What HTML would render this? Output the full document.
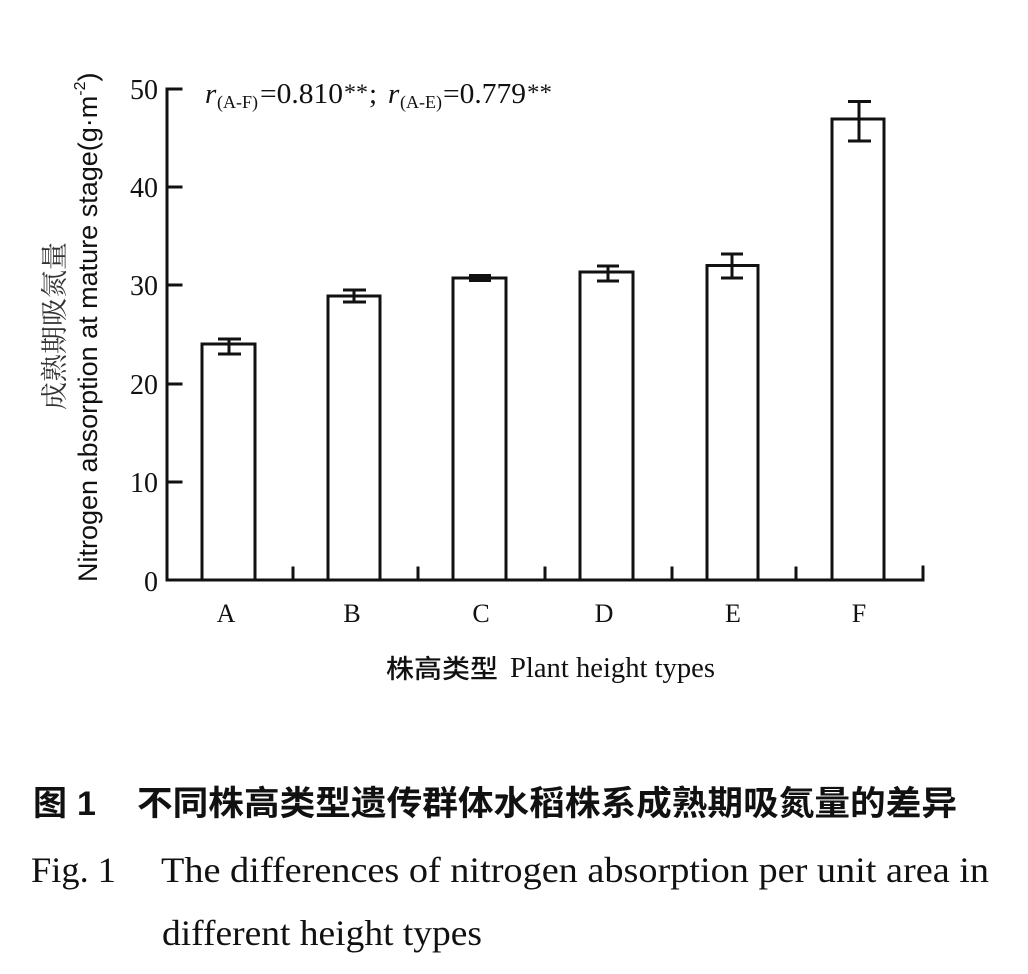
<!DOCTYPE html>
<html>
<head>
<meta charset="utf-8">
<style>
html,body{margin:0;padding:0;background:#ffffff;}
svg{display:block;}
</style>
</head>
<body>
<svg width="1028" height="974" viewBox="0 0 1028 974" xmlns="http://www.w3.org/2000/svg">
<rect x="0" y="0" width="1028" height="974" fill="#ffffff"/>

<!-- axes -->
<g stroke="#111" stroke-width="3" fill="none" stroke-linecap="square">
  <line x1="167" y1="89" x2="167" y2="580"/>
  <line x1="167" y1="580" x2="923" y2="580"/>
  <!-- y ticks -->
  <line x1="167" y1="89" x2="181" y2="89"/>
  <line x1="167" y1="187" x2="181" y2="187"/>
  <line x1="167" y1="285" x2="181" y2="285"/>
  <line x1="167" y1="384" x2="181" y2="384"/>
  <line x1="167" y1="482" x2="181" y2="482"/>
  <!-- x ticks -->
  <line x1="293" y1="580" x2="293" y2="568"/>
  <line x1="418" y1="580" x2="418" y2="568"/>
  <line x1="545" y1="580" x2="545" y2="568"/>
  <line x1="672" y1="580" x2="672" y2="568"/>
  <line x1="796" y1="580" x2="796" y2="568"/>
  <line x1="923" y1="580" x2="923" y2="567"/>
</g>

<!-- bars -->
<g stroke="#111" stroke-width="3" fill="#ffffff">
  <rect x="202" y="344" width="53" height="236"/>
  <rect x="328" y="296" width="52" height="284"/>
  <rect x="453" y="278" width="53" height="302"/>
  <rect x="580" y="272" width="53" height="308"/>
  <rect x="707" y="265.5" width="51" height="314.5"/>
  <rect x="832" y="119" width="52" height="461"/>
</g>

<!-- error bars -->
<g stroke="#111" stroke-width="3" fill="none">
  <line x1="229" y1="339" x2="229" y2="354"/>
  <line x1="218" y1="339" x2="241" y2="339"/>
  <line x1="218" y1="354" x2="241" y2="354"/>

  <line x1="354" y1="290" x2="354" y2="302"/>
  <line x1="343" y1="290" x2="366" y2="290"/>
  <line x1="343" y1="302" x2="366" y2="302"/>

  <line x1="480" y1="275" x2="480" y2="281"/>
  <line x1="469" y1="275.5" x2="491" y2="275.5"/>
  <line x1="469" y1="280.5" x2="491" y2="280.5"/>

  <line x1="608" y1="266" x2="608" y2="281"/>
  <line x1="597" y1="266" x2="619" y2="266"/>
  <line x1="597" y1="281" x2="619" y2="281"/>

  <line x1="732" y1="254" x2="732" y2="278"/>
  <line x1="721" y1="254" x2="743" y2="254"/>
  <line x1="721" y1="278" x2="743" y2="278"/>

  <line x1="859" y1="101.5" x2="859" y2="141"/>
  <line x1="848" y1="101.5" x2="871" y2="101.5"/>
  <line x1="848" y1="141" x2="871" y2="141"/>
</g>

<!-- y tick labels -->
<g font-family="'Liberation Serif', serif" font-size="28" fill="#111" text-anchor="end">
  <text x="158" y="99">50</text>
  <text x="158" y="197">40</text>
  <text x="158" y="295">30</text>
  <text x="158" y="394">20</text>
  <text x="158" y="492">10</text>
  <text x="158" y="591">0</text>
</g>

<!-- category labels -->
<g font-family="'Liberation Serif', serif" font-size="26" fill="#111" text-anchor="middle">
  <text x="226" y="622">A</text>
  <text x="352" y="622">B</text>
  <text x="481" y="622">C</text>
  <text x="604" y="622">D</text>
  <text x="733" y="622">E</text>
  <text x="859" y="622">F</text>
</g>

<!-- correlation annotation -->
<g font-family="'Liberation Serif', serif" fill="#111">
  <text x="205" y="103" font-size="29" font-style="italic">r</text>
  <text x="217" y="108" font-size="18" textLength="41" lengthAdjust="spacingAndGlyphs">(A-F)</text>
  <text x="260" y="103" font-size="29" textLength="83" lengthAdjust="spacingAndGlyphs">=0.810</text>
  <text x="344" y="100" font-size="23" textLength="24" lengthAdjust="spacingAndGlyphs">**</text>
  <text x="369" y="103" font-size="29">;</text>
  <text x="388" y="103" font-size="29" font-style="italic">r</text>
  <text x="400" y="108" font-size="18" textLength="42" lengthAdjust="spacingAndGlyphs">(A-E)</text>
  <text x="443" y="103" font-size="29" textLength="83" lengthAdjust="spacingAndGlyphs">=0.779</text>
  <text x="527" y="100" font-size="23" textLength="25" lengthAdjust="spacingAndGlyphs">**</text>
</g>

<!-- y axis titles -->
<text transform="translate(64,410) rotate(-90)" font-family="'Liberation Serif','Noto Serif CJK SC',serif" font-size="27" fill="#333" textLength="168" lengthAdjust="spacingAndGlyphs">成熟期吸氮量</text>
<text transform="translate(97,582) rotate(-90)" font-family="'Liberation Sans',sans-serif" font-size="27" fill="#111">Nitrogen absorption at mature stage(g·m<tspan font-size="16" dy="-12">-2</tspan><tspan dy="12">)</tspan></text>

<!-- x axis title -->
<text x="386" y="678" font-family="'Liberation Sans','Noto Sans CJK SC',sans-serif" font-size="26" font-weight="500" fill="#111" textLength="112" lengthAdjust="spacingAndGlyphs">株高类型</text>
<text x="510" y="677" font-family="'Liberation Serif',serif" font-size="28" fill="#111" textLength="205" lengthAdjust="spacingAndGlyphs">Plant height types</text>

<!-- caption -->
<g font-family="'Liberation Sans','Noto Sans CJK SC',sans-serif" font-size="34" font-weight="700" fill="#111">
  <text x="33" y="815">图</text>
  <text x="77" y="815">1</text>
  <text x="137" y="815" textLength="820" lengthAdjust="spacingAndGlyphs">不同株高类型遗传群体水稻株系成熟期吸氮量的差异</text>
</g>
<g font-family="'Liberation Serif',serif" font-size="36" fill="#111">
  <text x="31" y="882" textLength="85" lengthAdjust="spacingAndGlyphs">Fig. 1</text>
  <text x="161" y="882" textLength="828" lengthAdjust="spacingAndGlyphs">The differences of nitrogen absorption per unit area in</text>
  <text x="162" y="945" textLength="320" lengthAdjust="spacingAndGlyphs">different height types</text>
</g>
</svg>
</body>
</html>
